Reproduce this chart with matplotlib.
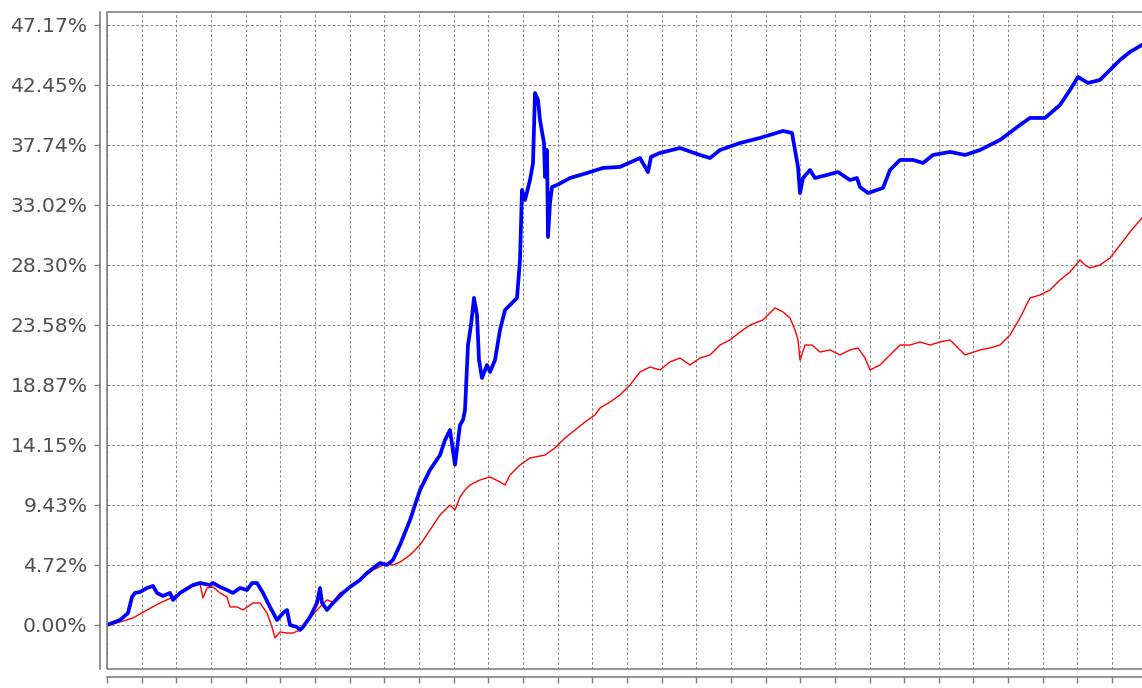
import numpy as np
import matplotlib
matplotlib.use("Agg")
import matplotlib.pyplot as plt
from matplotlib.patches import Rectangle

# ---- data (x = trading-day index, y = cumulative return in %) ----
blue_x = [0, 13, 21, 25, 28, 33, 40, 46, 50, 56, 63, 66, 73, 86, 93, 103, 106, 113, 120, 126,
          133, 140, 145, 150, 156, 163, 170, 176, 180, 183, 190, 193, 196, 203, 210, 213, 215, 220,
          226, 236, 243, 253, 260, 273, 280, 286, 293, 303, 308, 313, 318, 323, 333, 338, 343, 348,
          353, 356, 358, 361, 364, 367, 370, 372, 375, 380, 383, 388, 393, 398, 403, 410, 413, 415,
          418, 423, 426, 428, 431, 433, 437, 438, 440, 441, 443, 445, 450, 463, 480, 496, 513, 533,
          541, 544, 553, 573, 593, 603, 613, 633, 653, 676, 685, 688, 691, 693, 696, 703, 708, 720, 731, 743,
          750, 753, 761, 770, 776, 783, 793, 806, 816, 826, 843, 858, 873, 893, 913, 923, 938, 953,
          963, 971, 981, 993, 1003, 1013, 1023, 1035]
blue_y = [0.00, 0.39, 0.94, 2.20, 2.52, 2.59, 2.91, 3.07, 2.52, 2.28, 2.52, 1.97, 2.52, 3.14, 3.30,
          3.14, 3.30, 2.99, 2.75, 2.52, 2.91, 2.75, 3.30, 3.30, 2.52, 1.42, 0.39, 0.94, 1.18, 0.00,
          -0.16, -0.39, -0.16, 0.63, 1.73, 2.91, 1.73, 1.18, 1.73, 2.52, 2.99, 3.54, 4.09, 4.87,
          4.72, 5.11, 6.29, 8.25, 9.43, 10.61, 11.40, 12.19, 13.36, 14.54, 15.33, 12.60, 15.72,
          16.12, 16.90, 22.01, 23.58, 25.71, 24.37, 20.83, 19.42, 20.44, 19.89, 20.83, 23.19, 24.76,
          25.16, 25.71, 28.70, 34.20, 33.41, 34.98, 36.32, 41.82, 41.27, 39.70, 37.89, 35.22, 37.34,
          30.50, 33.18, 34.43, 34.59, 35.14, 35.53, 35.93, 36.01, 36.71,
          35.60, 36.80, 37.11, 37.50, 36.95, 36.71,
          37.34, 37.89, 38.29, 38.84, 38.68, 37.34, 36.01, 33.96, 35.14, 35.77, 35.14, 35.38, 35.61,
          34.98, 35.14, 34.43, 33.96, 34.20, 34.36, 35.77, 36.56, 36.56, 36.32, 36.95, 37.19, 36.95,
          37.34, 38.13, 39.31, 39.86, 39.86, 40.88, 42.06, 43.08, 42.61, 42.85, 43.63, 44.42, 45.05,
          45.60]

red_x = [0, 3, 26, 40, 53, 66, 80, 93, 96, 100, 106, 113, 120, 123, 130, 136, 146, 153, 160, 165,
         168, 173, 180, 186, 193, 200, 210, 220, 226, 233, 240, 253, 266, 280, 286, 293, 303, 313,
         323, 333, 343, 348, 353, 358, 363, 373, 383, 393, 398, 403, 413, 423, 438, 448, 458, 468,
         478, 488, 493, 503, 513, 523, 533, 543, 553, 563, 573, 583, 593, 603, 613, 623, 633, 643,
         656, 668, 676, 683, 688, 691, 693, 698, 705, 713, 723, 733, 743, 751, 758, 763, 773, 783,
         793, 803, 813, 823, 833, 843, 853, 858, 873, 883, 893, 903, 913, 923, 933, 943, 953, 963,
         973, 978, 983, 993, 1003, 1013, 1023, 1035]
red_y = [0.00, 0.00, 0.55, 1.18, 1.73, 2.20, 2.91, 3.22, 2.12, 2.91, 2.99, 2.52, 2.20, 1.42, 1.42,
         1.18, 1.73, 1.73, 0.94, -0.16, -1.02, -0.55, -0.63, -0.63, -0.39, 0.24, 1.18, 1.97, 1.81,
         2.52, 2.75, 3.54, 4.32, 4.87, 4.72, 4.95, 5.50, 6.29, 7.47, 8.65, 9.43, 9.04, 10.06, 10.61,
         11.01, 11.40, 11.64, 11.24, 11.01, 11.79, 12.58, 13.13, 13.36, 13.92, 14.70, 15.33, 15.96,
         16.51, 17.06, 17.53, 18.08, 18.87, 19.89, 20.28, 20.05, 20.68, 20.99, 20.44, 20.99, 21.23,
         22.01, 22.41, 23.03, 23.58, 23.98, 24.92, 24.61, 24.14, 23.19, 22.41, 20.83, 22.01, 22.01,
         21.46, 21.62, 21.23, 21.62, 21.78, 20.99, 20.05, 20.44, 21.23, 22.01, 22.01, 22.25, 22.01,
         22.25, 22.41, 21.62, 21.23, 21.62, 21.78, 22.01, 22.80, 24.14, 25.71, 25.94, 26.34, 27.12,
         27.75, 28.70, 28.30, 28.07, 28.30, 28.85, 29.87, 30.90, 32.00]

y_step = 4.717
y_ticks = [i * y_step for i in range(11)]
y_tick_labels = ["%.2f%%" % v for v in y_ticks]
x_tick_step = 34.66

# ---- figure ----
W, H = 1142, 688
fig = plt.figure(figsize=(W / 100, H / 100), dpi=100)
ax = fig.add_axes([107 / W, 1 - 669 / H, 1 - 107 / W, (669 - 12) / H])

gray = "#808080"
ax.plot(red_x, red_y, color="#ff0000", lw=1.0, zorder=3)
ax.plot(blue_x, blue_y, color="#0000ff", lw=2.7, zorder=4, solid_joinstyle="round")

ax.set_xlim(0, 1035)
ax.set_ylim(-3.46, 48.19)
ax.set_yticks(y_ticks)
ax.set_yticklabels(y_tick_labels)
ax.set_xticks(np.arange(0, 1035, x_tick_step))
ax.tick_params(axis="x", labelbottom=False, direction="out", length=4, color=gray, width=1)
ax.tick_params(axis="y", direction="out", length=4, color=gray, width=1, pad=5,
               labelsize=14.6, labelcolor="#505050")

ax.grid(True, color="#8a8a8a", lw=0.75, linestyle=(0, (2.6, 2.0)))
ax.set_axisbelow(True)

for s in ("top", "right"):
    ax.spines[s].set_visible(False)
ax.spines["left"].set_position(("outward", 5.0))
ax.spines["bottom"].set_position(("outward", 5.8))
for s in ("left", "bottom"):
    ax.spines[s].set_color(gray)
    ax.spines[s].set_linewidth(1.2)

# plot-area border
ax.add_patch(Rectangle((0, 0), 1.2, 1, transform=ax.transAxes, fill=False,
                       edgecolor=gray, lw=1.2, clip_on=False, zorder=5))

fig.savefig("out.png", dpi=100)
